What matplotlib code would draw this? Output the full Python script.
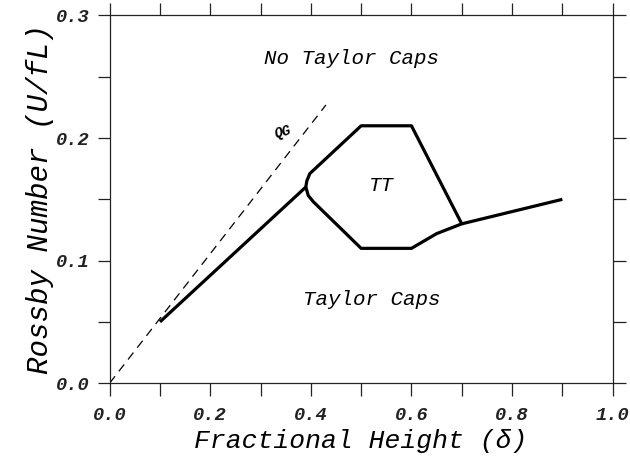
import numpy as np
import matplotlib
matplotlib.use('Agg')
import matplotlib.pyplot as plt
from matplotlib.ticker import MultipleLocator

# Regime boundaries
main_x = [0.1, 0.39]
main_y = [0.05, 0.16]

upper_x = [0.39, 0.392, 0.398, 0.5, 0.6, 0.7]
upper_y = [0.16, 0.165, 0.171, 0.21, 0.21, 0.13]

lower_x = [0.39, 0.395, 0.405, 0.5, 0.6, 0.65, 0.7]
lower_y = [0.16, 0.153, 0.148, 0.11, 0.11, 0.122, 0.13]

tail_x = [0.7, 0.9]
tail_y = [0.13, 0.15]

# quasi-geostrophic limit
qg_x = [0.0, 0.43]
qg_y = [0.0, 0.227]

x_ticks = [0.0, 0.2, 0.4, 0.6, 0.8, 1.0]
y_ticks = [0.0, 0.1, 0.2, 0.3]

# wide, evenly spaced serif lettering like the original plot
plt.rcParams['font.family'] = ['Liberation Mono', 'DejaVu Serif']

fig = plt.figure(figsize=(6.3, 4.69), dpi=100)
ax = fig.add_axes([0.174, 0.183, 0.7985, 0.784])

lw = 2.3
for xs, ys in [(main_x, main_y), (upper_x, upper_y), (lower_x, lower_y), (tail_x, tail_y)]:
    ax.plot(xs, ys, color='black', lw=lw, solid_joinstyle='round', solid_capstyle='butt')

ax.plot(qg_x, qg_y, color='black', lw=0.9, dashes=(7, 5))

ax.set_xlim(0, 1)
ax.set_ylim(0, 0.3)
ax.set_xticks(x_ticks)
ax.set_yticks(y_ticks)
ax.xaxis.set_minor_locator(MultipleLocator(0.1))
ax.yaxis.set_minor_locator(MultipleLocator(0.05))
ax.set_xticklabels(['%.1f' % v for v in x_ticks])
ax.set_yticklabels(['%.1f' % v for v in y_ticks])

for which in ['major', 'minor']:
    ax.tick_params(which=which, direction='out', length=9, width=0.9,
                   top=True, right=True, color='#222222')
ax.tick_params(axis='x', which='major', pad=8)
ax.tick_params(axis='y', which='major', pad=5)

for lab in ax.get_xticklabels() + ax.get_yticklabels():
    lab.set_fontstyle('italic')
    lab.set_fontweight('bold')
    lab.set_fontsize(13.5)
    lab.set_color('#222222')

for sp in ax.spines.values():
    sp.set_linewidth(0.9)
    sp.set_color('#222222')

ax.set_xlabel('Fractional Height (δ)', fontsize=19, style='italic', labelpad=4)
ax.set_ylabel('Rossby Number (U/fL)', fontsize=21, style='italic', labelpad=2)

ax.text(0.48, 0.2645, 'No Taylor Caps', fontsize=15, style='italic', ha='center', va='center')
ax.text(0.521, 0.068, 'Taylor Caps', fontsize=15, style='italic', ha='center', va='center')
ax.text(0.541, 0.161, 'TT', fontsize=15, style='italic', ha='center', va='center')
ax.text(0.344, 0.2045, 'QG', fontsize=10, style='italic', fontweight='bold',
        ha='center', va='center', rotation=15)

fig.savefig('out.png', dpi=100)
